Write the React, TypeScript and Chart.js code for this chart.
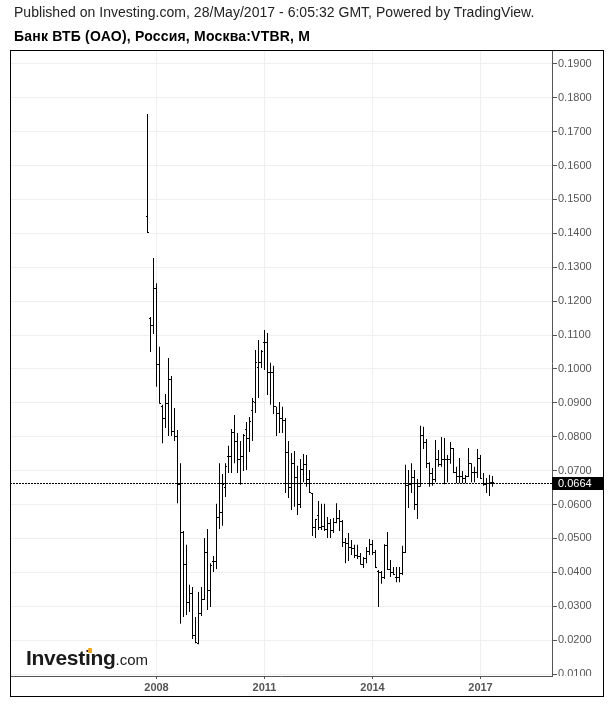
import React, { useEffect, useRef } from 'react';
import { Chart, registerables } from 'chart.js';

Chart.register(...registerables);

const FONT = "'Liberation Sans', Arial, sans-serif";

const firstMonth = '2007-10';
const lastPrice = 0.0664;
const yearTicks = [2008, 2011, 2014, 2017];
const priceTicks = [0.01, 0.02, 0.03, 0.04, 0.05, 0.06, 0.07, 0.08, 0.09, 0.1, 0.11, 0.12, 0.13, 0.14, 0.15, 0.16, 0.17, 0.18, 0.19];

const opens = [
  0.1451, 0.1150, 0.1127, 0.1236, 0.1012, 0.0888, 0.0855, 0.0897, 0.0970, 0.0814,
  0.0802, 0.0660, 0.0516, 0.0424, 0.0312, 0.0336, 0.0215, 0.0190, 0.0277, 0.0321,
  0.0457, 0.0345, 0.0433, 0.0433, 0.0563, 0.0575, 0.0650, 0.0743, 0.0743, 0.0811,
  0.0787, 0.0734, 0.0743, 0.0820, 0.0796, 0.0876, 0.0900, 0.1003, 0.1018, 0.1077,
  0.1077, 0.0988, 0.0988, 0.0888, 0.0867, 0.0855, 0.0849, 0.0752, 0.0649, 0.0722,
  0.0681, 0.0599, 0.0702, 0.0717, 0.0675, 0.0631, 0.0531, 0.0569, 0.0531, 0.0534,
  0.0525, 0.0545, 0.0522, 0.0548, 0.0560, 0.0551, 0.0489, 0.0486, 0.0472, 0.0469,
  0.0451, 0.0448, 0.0424, 0.0442, 0.0460, 0.0483, 0.0457, 0.0401, 0.0398, 0.0386,
  0.0478, 0.0407, 0.0398, 0.0386, 0.0386, 0.0395, 0.0457, 0.0655, 0.0658, 0.0681,
  0.0599, 0.0652, 0.0805, 0.0784, 0.0722, 0.0690, 0.0675, 0.0734, 0.0717, 0.0734,
  0.0734, 0.0734, 0.0764, 0.0693, 0.0684, 0.0684, 0.0678, 0.0684, 0.0722, 0.0693,
  0.0693, 0.0737, 0.0663, 0.0660, 0.0663, 0.0666,
];

const highs = [
  0.1752, 0.1153, 0.1327, 0.1253, 0.1065, 0.0894, 0.0926, 0.1032, 0.0979, 0.0885,
  0.0820, 0.0722, 0.0522, 0.0481, 0.0363, 0.0357, 0.0268, 0.0342, 0.0357, 0.0501,
  0.0528, 0.0427, 0.0448, 0.0602, 0.0722, 0.0690, 0.0722, 0.0773, 0.0823, 0.0864,
  0.0811, 0.0787, 0.0808, 0.0843, 0.0858, 0.0914, 0.1056, 0.1085, 0.1056, 0.1115,
  0.1106, 0.1018, 0.1009, 0.0888, 0.0902, 0.0888, 0.0855, 0.0787, 0.0752, 0.0758,
  0.0714, 0.0734, 0.0749, 0.0746, 0.0702, 0.0634, 0.0557, 0.0610, 0.0602, 0.0602,
  0.0563, 0.0557, 0.0560, 0.0604, 0.0584, 0.0554, 0.0501, 0.0516, 0.0495, 0.0481,
  0.0481, 0.0457, 0.0445, 0.0475, 0.0498, 0.0495, 0.0466, 0.0407, 0.0404, 0.0483,
  0.0519, 0.0436, 0.0416, 0.0416, 0.0416, 0.0478, 0.0717, 0.0702, 0.0722, 0.0702,
  0.0675, 0.0832, 0.0829, 0.0793, 0.0725, 0.0708, 0.0790, 0.0761, 0.0799, 0.0796,
  0.0746, 0.0784, 0.0767, 0.0711, 0.0737, 0.0699, 0.0687, 0.0767, 0.0722, 0.0711,
  0.0764, 0.0746, 0.0693, 0.0678, 0.0687, 0.0684,
];

const lows = [
  0.1401, 0.1050, 0.1103, 0.0947, 0.0897, 0.0781, 0.0826, 0.0802, 0.0802, 0.0787,
  0.0604, 0.0248, 0.0268, 0.0274, 0.0283, 0.0203, 0.0191, 0.0188, 0.0271, 0.0318,
  0.0289, 0.0298, 0.0401, 0.0410, 0.0528, 0.0537, 0.0622, 0.0693, 0.0693, 0.0722,
  0.0693, 0.0658, 0.0699, 0.0702, 0.0755, 0.0787, 0.0870, 0.0914, 0.1003, 0.0997,
  0.0923, 0.0894, 0.0867, 0.0802, 0.0811, 0.0811, 0.0634, 0.0619, 0.0584, 0.0593,
  0.0569, 0.0590, 0.0666, 0.0652, 0.0634, 0.0507, 0.0501, 0.0525, 0.0525, 0.0522,
  0.0501, 0.0501, 0.0516, 0.0545, 0.0522, 0.0475, 0.0427, 0.0433, 0.0451, 0.0442,
  0.0439, 0.0422, 0.0413, 0.0427, 0.0451, 0.0451, 0.0413, 0.0298, 0.0366, 0.0380,
  0.0407, 0.0386, 0.0392, 0.0371, 0.0371, 0.0392, 0.0457, 0.0590, 0.0634, 0.0584,
  0.0557, 0.0652, 0.0764, 0.0708, 0.0652, 0.0655, 0.0666, 0.0711, 0.0711, 0.0660,
  0.0666, 0.0720, 0.0693, 0.0663, 0.0663, 0.0663, 0.0663, 0.0681, 0.0666, 0.0666,
  0.0678, 0.0675, 0.0655, 0.0634, 0.0625, 0.0652,
];

const closes = [
  0.1402, 0.1127, 0.1236, 0.1012, 0.0898, 0.0855, 0.0897, 0.0970, 0.0814, 0.0802,
  0.0660, 0.0516, 0.0424, 0.0312, 0.0336, 0.0215, 0.0192, 0.0277, 0.0321, 0.0457,
  0.0345, 0.0420, 0.0433, 0.0563, 0.0575, 0.0660, 0.0712, 0.0743, 0.0811, 0.0787,
  0.0734, 0.0743, 0.0805, 0.0796, 0.0846, 0.0905, 0.1020, 0.1018, 0.1050, 0.1077,
  0.0988, 0.0988, 0.0888, 0.0867, 0.0855, 0.0849, 0.0752, 0.0649, 0.0722, 0.0681,
  0.0599, 0.0702, 0.0717, 0.0675, 0.0636, 0.0531, 0.0555, 0.0531, 0.0534, 0.0525,
  0.0545, 0.0522, 0.0548, 0.0560, 0.0551, 0.0489, 0.0486, 0.0472, 0.0469, 0.0451,
  0.0448, 0.0424, 0.0442, 0.0460, 0.0483, 0.0457, 0.0415, 0.0398, 0.0386, 0.0478,
  0.0407, 0.0398, 0.0394, 0.0386, 0.0395, 0.0457, 0.0655, 0.0658, 0.0681, 0.0599,
  0.0652, 0.0805, 0.0784, 0.0722, 0.0690, 0.0675, 0.0734, 0.0717, 0.0734, 0.0734,
  0.0734, 0.0764, 0.0693, 0.0684, 0.0684, 0.0678, 0.0684, 0.0722, 0.0693, 0.0693,
  0.0737, 0.0676, 0.0660, 0.0663, 0.0666, 0.0664,
];

// month categories derived from the first month of the series
const months: string[] = highs.map((_, i) => {
  const [fy, fm] = firstMonth.split('-').map(Number);
  const t = fy * 12 + (fm - 1) + i;
  const yy = Math.floor(t / 12);
  const mm = (t % 12) + 1;
  return `${yy}-${String(mm).padStart(2, '0')}`;
});
const monthX = months.map((m) => {
  const [yy, mm] = m.split('-').map(Number);
  return yy + (mm - 1) / 12;
});

// axis ranges (36 px per year, ~33.9 px per 0.01)
const X_MIN = 2008 - 146.5 / 36;
const X_MAX = X_MIN + 542 / 36;
const Y_MIN = 0.01 - (2 / 33.9) * 0.01;
const Y_MAX = Y_MIN + (626 / 33.9) * 0.01;

const overlay = {
  id: 'overlay',
  afterDatasetsDraw(chart: any) {
    const { ctx, chartArea, scales } = chart;
    const x = scales.x;
    const y = scales.y;
    ctx.save();
    ctx.fillStyle = '#000';
    monthX.forEach((mx, i) => {
      const col = Math.round(x.getPixelForValue(mx) - 0.5);
      ctx.fillRect(col - 1, Math.round(y.getPixelForValue(opens[i]) - 0.5), 1, 1);
      ctx.fillRect(col + 1, Math.round(y.getPixelForValue(closes[i]) - 0.5), 1, 1);
    });
    const py = Math.round(y.getPixelForValue(lastPrice)) + 0.5;
    ctx.strokeStyle = '#000';
    ctx.lineWidth = 1;
    ctx.setLineDash([2, 1]);
    ctx.beginPath();
    ctx.moveTo(chartArea.left, py);
    ctx.lineTo(chartArea.right, py);
    ctx.stroke();
    ctx.restore();
  },
  afterDraw(chart: any) {
    const { ctx, chartArea, scales } = chart;
    const y = scales.y;
    ctx.save();
    ctx.fillStyle = '#fff';
    ctx.fillRect(chartArea.right + 1, chartArea.bottom, 52, 21);
    const py = Math.round(y.getPixelForValue(lastPrice));
    ctx.fillStyle = '#000';
    ctx.fillRect(chartArea.right, py - 6, 52, 13);
    ctx.fillStyle = '#fff';
    ctx.font = `11px ${FONT}`;
    ctx.textBaseline = 'middle';
    ctx.textAlign = 'left';
    ctx.fillText(lastPrice.toFixed(4), chartArea.right + 6, py + 0.5);
    ctx.strokeStyle = '#000';
    ctx.lineWidth = 1;
    ctx.setLineDash([]);
    ctx.strokeRect(10.5, 50.5, 593, 646);
    ctx.restore();
  },
};

export default function App() {
  const ref = useRef<HTMLCanvasElement | null>(null);

  useEffect(() => {
    if (!ref.current) return;
    const chart = new Chart(ref.current, {
      type: 'bar',
      data: {
        datasets: [
          {
            label: 'VTBR',
            data: monthX.map((mx, i) => ({ x: mx, y: [lows[i], highs[i]] })) as any,
            backgroundColor: '#000',
            borderWidth: 0,
            barThickness: 1,
            inflateAmount: 0,
            grouped: false,
          } as any,
        ],
      },
      options: {
        responsive: false,
        animation: false,
        events: [],
        layout: { padding: { left: 10, top: 50, right: 8, bottom: 20 } },
        plugins: {
          legend: { display: false },
          tooltip: { enabled: false },
          title: { display: false },
        },
        scales: {
          x: {
            type: 'linear',
            position: 'bottom',
            min: X_MIN,
            max: X_MAX,
            offset: false,
            afterBuildTicks: (s: any) => {
              s.ticks = yearTicks.map((v) => ({ value: v }));
            },
            afterFit: (s: any) => {
              s.height = 21;
            },
            ticks: {
              autoSkip: false,
              maxRotation: 0,
              padding: 2,
              color: '#555',
              font: { family: FONT, size: 11, weight: 'bold' },
              callback: (v: any) => String(v),
            },
            grid: { offset: false, color: '#efefef', lineWidth: 1, tickColor: '#555', tickLength: 3 },
            border: { display: true, color: '#555', width: 1 },
          } as any,
          y: {
            type: 'linear',
            position: 'right',
            min: Y_MIN,
            max: Y_MAX,
            afterBuildTicks: (s: any) => {
              s.ticks = priceTicks.map((v) => ({ value: v }));
            },
            afterFit: (s: any) => {
              s.width = 52;
            },
            ticks: {
              padding: 1,
              color: '#555',
              font: { family: FONT, size: 11 },
              callback: (v: any) => Number(v).toFixed(4),
            },
            grid: { color: '#efefef', lineWidth: 1, tickColor: '#555', tickLength: 5 },
            border: { display: true, color: '#555', width: 1 },
          } as any,
        },
      },
      plugins: [overlay],
    });
    return () => chart.destroy();
  }, []);

  return (
    <div
      style={{
        position: 'absolute',
        left: 0,
        top: 0,
        width: 612,
        height: 717,
        background: '#fff',
        overflow: 'hidden',
        fontFamily: FONT,
      }}
    >
      <canvas ref={ref} width={612} height={717} style={{ position: 'absolute', left: 0, top: 0, width: 612, height: 717 }} />
      <div style={{ position: 'absolute', left: 14, top: 4, fontSize: 14, lineHeight: '16px', color: '#222', whiteSpace: 'nowrap', letterSpacing: '0.03px' }}>
        Published on Investing.com, 28/May/2017 - 6:05:32 GMT, Powered by TradingView.
      </div>
      <div style={{ position: 'absolute', left: 14, top: 28, fontSize: 14, lineHeight: '16px', fontWeight: 'bold', color: '#000', whiteSpace: 'nowrap', letterSpacing: '0.2px' }}>
        Банк ВТБ (ОАО), Россия, Москва:VTBR, M
      </div>
      <div style={{ position: 'absolute', left: 26, top: 646, lineHeight: '24px', whiteSpace: 'nowrap', color: '#1a1a1a' }}>
        <span style={{ fontSize: 21, fontWeight: 'bold', letterSpacing: '-0.3px' }}>Investing</span>
        <span style={{ fontSize: 15 }}>.com</span>
      </div>
      <div style={{ position: 'absolute', left: 88, top: 648, width: 4, height: 5, background: '#f7a21b', borderRadius: 1 }} />
    </div>
  );
}
